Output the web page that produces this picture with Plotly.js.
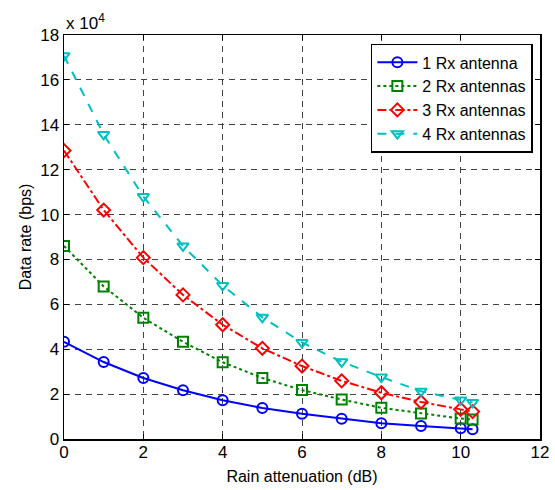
<!DOCTYPE html>
<html>
<head>
<meta charset="utf-8">
<script src="https://cdn.plot.ly/plotly-3.0.1.min.js"></script>
<style>html,body{margin:0;padding:0;background:#fff;}#chart{width:555px;height:490px;}</style>
</head>
<body>
<div id="chart"></div>
<script>
// Rain attenuation (dB)
const attenuation = [0, 1, 2, 3, 4, 5, 6, 7, 8, 9, 10, 10.3];
// Data rate in units of 10^4 bps
const rx1 = [4.33, 3.43, 2.72, 2.17, 1.73, 1.38, 1.12, 0.90, 0.70, 0.58, 0.48, 0.43];
const rx2 = [8.6, 6.8, 5.4, 4.33, 3.42, 2.72, 2.18, 1.76, 1.39, 1.14, 0.91, 0.87];
const rx3 = [12.85, 10.2, 8.08, 6.42, 5.09, 4.04, 3.25, 2.59, 2.06, 1.65, 1.32, 1.22];
const rx4 = [17.08, 13.57, 10.8, 8.6, 6.84, 5.42, 4.3, 3.44, 2.76, 2.13, 1.74, 1.63];
const seriesNames = ['1 Rx antenna', '2 Rx antennas', '3 Rx antennas', '4 Rx antennas'];
const xTicks = [0, 2, 4, 6, 8, 10, 12];
const yTicks = [0, 2, 4, 6, 8, 10, 12, 14, 16, 18];

const styles = [
  {color: '#0000FF', dash: 'solid', symbol: 'circle-open'},
  {color: '#008000', dash: 'dot', symbol: 'square-open'},
  {color: '#FF0000', dash: 'dashdot', symbol: 'diamond-open'},
  {color: '#00BFBF', dash: 'dash', symbol: 'triangle-down-open'}
];
const ys = [rx1, rx2, rx3, rx4];
const traces = ys.map((y, i) => ({
  x: attenuation, y: y, name: seriesNames[i], type: 'scatter', mode: 'lines+markers',
  line: {color: styles[i].color, dash: styles[i].dash, width: 2},
  marker: {symbol: styles[i].symbol, size: 10, color: styles[i].color, line: {width: 2, color: styles[i].color}}
}));

const fontFam = 'Arial, "Liberation Sans", sans-serif';
const axisCommon = {
  showline: true, mirror: 'ticks', linecolor: '#000', linewidth: 1.5,
  ticks: 'inside', ticklen: 5, tickcolor: '#000', tickwidth: 1,
  showgrid: true, gridcolor: '#444', griddash: '6px,5px', gridwidth: 1,
  zeroline: false, tickfont: {family: fontFam, size: 17, color: '#000'}
};
const layout = {
  width: 555, height: 490,
  margin: {l: 64, r: 15, t: 35, b: 51},
  paper_bgcolor: '#fff', plot_bgcolor: '#fff',
  font: {family: fontFam, color: '#000'},
  showlegend: true,
  legend: {x: 0.985, y: 0.978, xanchor: 'right', yanchor: 'top', bgcolor: '#fff',
    bordercolor: '#000', borderwidth: 1.5, font: {family: fontFam, size: 16, color: '#000'},
    tracegroupgap: 2, itemwidth: 40},
  xaxis: Object.assign({}, axisCommon, {
    range: [0, 12], tickvals: xTicks, ticktext: xTicks.map(String), ticklabelstandoff: -3,
    title: {text: 'Rain attenuation (dB)', font: {family: fontFam, size: 16}, standoff: 10}
  }),
  yaxis: Object.assign({}, axisCommon, {
    range: [0, 18], tickvals: yTicks, ticktext: yTicks.map(String),
    title: {text: 'Data rate (bps)', font: {family: fontFam, size: 16}, standoff: 4}
  }),
  annotations: [{
    xref: 'paper', yref: 'paper', x: 0, y: 1, xanchor: 'left', yanchor: 'bottom',
    text: 'x 10<sup>4</sup>', showarrow: false, font: {family: fontFam, size: 17, color: '#000'}, yshift: 0
  }]
};
Plotly.newPlot('chart', traces, layout, {displayModeBar: false, staticPlot: true});
</script>
</body>
</html>
